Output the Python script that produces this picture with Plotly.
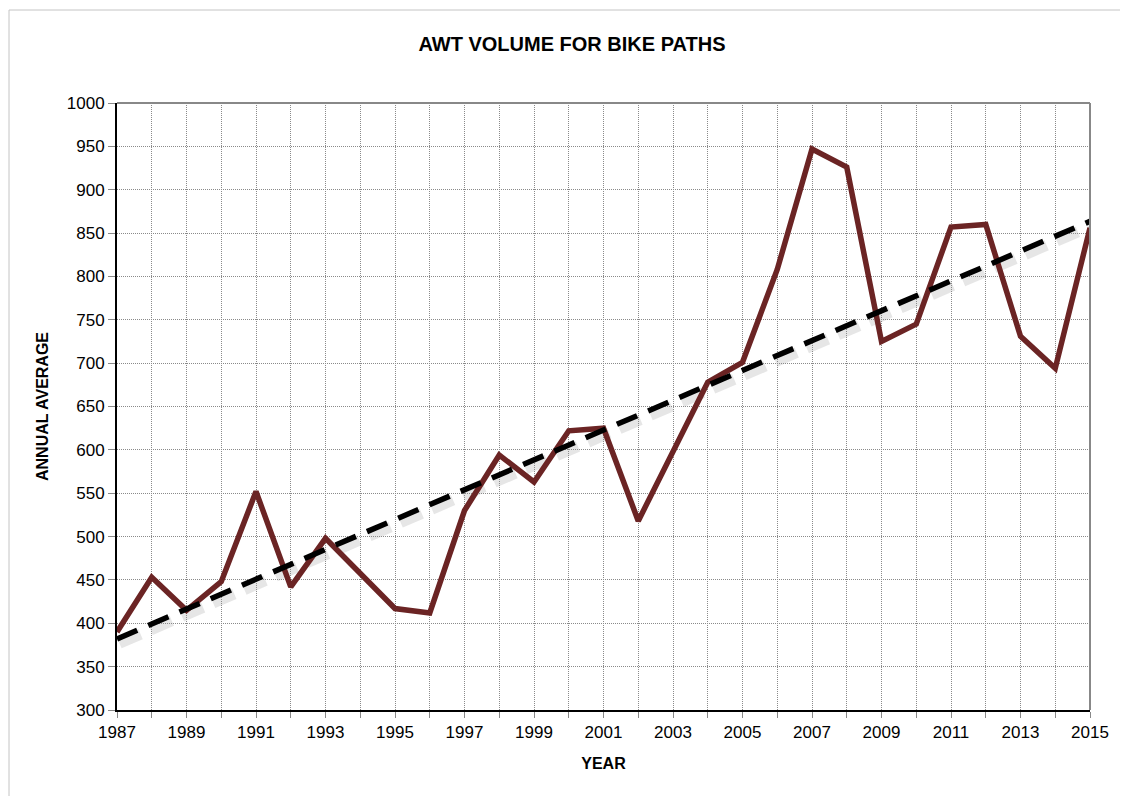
import plotly.graph_objects as go
import numpy as np

years = list(range(1987, 2016))
awt = [390, 453, 415, 448, 552, 442, 498, 457, 417, 412,
       530, 594, 563, 622, 625, 518, 597, 678, 701, 808,
       947, 926, 725, 745, 857, 860, 731, 694, 856]

# linear trend like the excel trendline
coef = np.polyfit(years, awt, 1)
trend = np.polyval(coef, years)

fig = go.Figure()

# soft shadow under the trend line
fig.add_trace(go.Scatter(
    x=np.array(years) + 0.07, y=trend - 5,
    mode='lines',
    line=dict(color='rgba(140,140,140,0.22)', width=11, dash='23px,11px'),
    hoverinfo='skip', showlegend=False
))

fig.add_trace(go.Scatter(
    x=years, y=awt,
    mode='lines',
    line=dict(color='#6B2424', width=5.5),
    name='AWT', showlegend=False
))

fig.add_trace(go.Scatter(
    x=years, y=trend,
    mode='lines',
    line=dict(color='black', width=5.5, dash='22px,12px'),
    name='Trend', showlegend=False
))

font_family = 'Liberation Sans, Arial, sans-serif'

L, R, T, B = 109, 46, 95, 94
pw = 1128 - L - R
ph = 796 - T - B

fig.update_layout(
    width=1128, height=796,
    margin=dict(l=L, r=R, t=T, b=B),
    paper_bgcolor='white', plot_bgcolor='white',
    font=dict(family=font_family, color='black', size=17),
    title=dict(text='<b>AWT VOLUME FOR BIKE PATHS</b>', x=0.5, xanchor='center',
               y=0.955, yanchor='middle', font=dict(size=20)),
)

fig.update_xaxes(
    range=[1987, 2015], tick0=1987, dtick=2,
    showline=True, linecolor='black', linewidth=2, mirror=False,
    ticks='outside', ticklen=6, tickcolor='#888',
    showgrid=True, gridcolor='#8a8a8a', griddash='1px,1px', gridwidth=1,
    minor=dict(dtick=1, tick0=1987, showgrid=True, gridcolor='#8a8a8a', griddash='1px,1px',
               ticks='outside', ticklen=6, tickcolor='#888'),
    title=dict(text='<b>YEAR</b>', font=dict(size=16), standoff=16),
    zeroline=False,
)
fig.update_yaxes(
    range=[300, 1000], dtick=50,
    showline=True, linecolor='black', linewidth=2,
    ticks='outside', ticklen=7, tickcolor='#888',
    showgrid=True, gridcolor='#8a8a8a', griddash='1px,1px', gridwidth=1,
    title=dict(text='<b>ANNUAL AVERAGE</b>', font=dict(size=16), standoff=14),
    zeroline=False,
)

# grey frame of the plot area (top and right) and outer chart border
fig.add_shape(type='line', xref='paper', yref='paper', x0=0, x1=1, y0=1, y1=1,
              line=dict(color='#888', width=2))
fig.add_shape(type='line', xref='paper', yref='paper', x0=1, x1=1, y0=0, y1=1,
              line=dict(color='#888', width=2))
fig.add_shape(type='rect', xref='paper', yref='paper',
              x0=(1 - L) / pw, x1=(1127 - L) / pw,
              y0=(B - 795) / ph, y1=(796 - T - 1) / ph,
              line=dict(color='#c4c4c4', width=1))

fig.write_html("out.html")
